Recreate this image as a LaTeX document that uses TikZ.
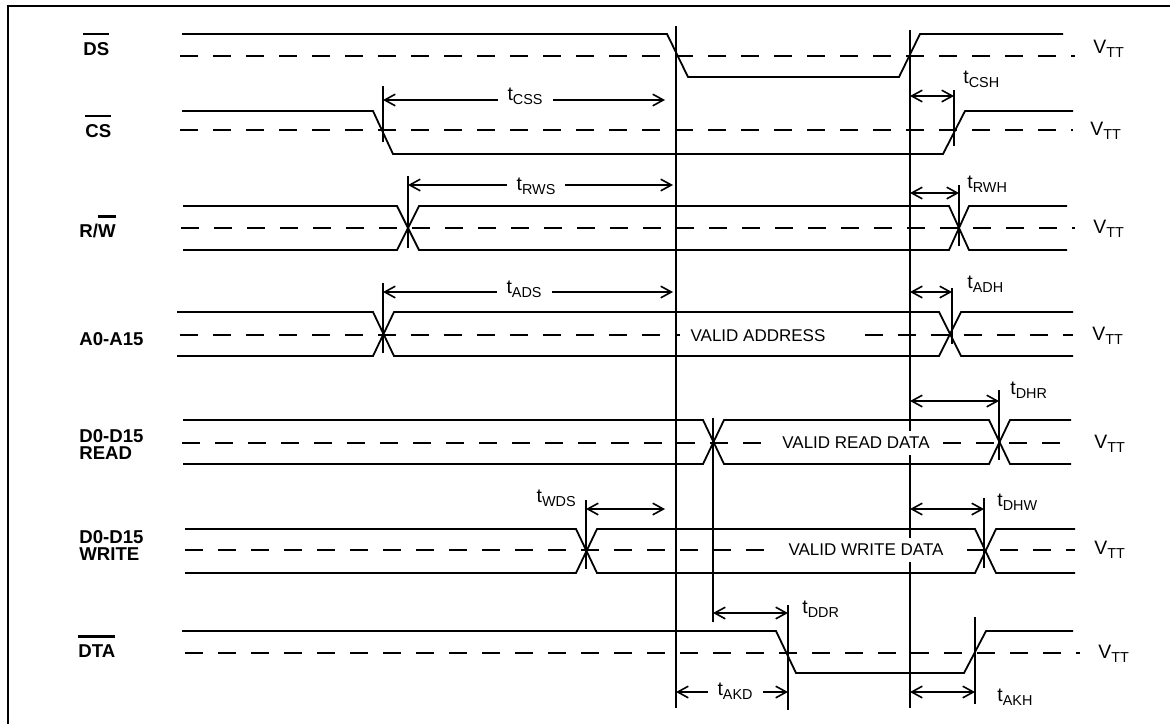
\documentclass[tikz,border=0pt]{standalone}
\usepackage{fontspec}
\setmainfont{Liberation Sans}
\usetikzlibrary{arrows.meta}

\newcommand{\sigbar}[1]{\vbox{\hrule height 1.4pt\kern 3.3pt\hbox{#1}}}
\newcommand{\tlab}[2]{#1\raisebox{-2pt}{\fontsize{7.2}{7.2}\selectfont #2}}

\tikzset{
  sig/.style={line width=0.9pt},
  vtt/.style={line width=0.9pt, dash pattern=on 9pt off 7.5pt},
  tline/.style={line width=1pt},
  dimarrow/.style={line width=0.8pt, {Straight Barb[length=5.3pt,width=5.8pt]}-{Straight Barb[length=5.3pt,width=5.8pt]}},
  siglabel/.style={font=\fontsize{9.3}{8.5}\selectfont\bfseries, anchor=base west, inner sep=0pt, align=left},
  tlbl/.style={font=\fontsize{9.7}{9.7}\selectfont, anchor=base west, inner sep=0pt},
  tmid/.style={font=\fontsize{9.7}{9.7}\selectfont, anchor=base, fill=white, inner xsep=5pt, inner ysep=1pt},
  validtxt/.style={font=\fontsize{8.5}{8.5}\selectfont, fill=white, inner xsep=3pt, inner ysep=3pt}
}

\begin{document}
\begin{tikzpicture}[x=0.5pt, y=-0.5pt]
    \useasboundingbox (0,0) rectangle (1170,724);
    \draw[line width=1.3pt] (8,724) -- (8,6) -- (1170,6);

    \draw[sig] (182,34) -- (667,34) -- (688,77) -- (899,77) -- (920,34) -- (1063,34);
    \draw[vtt] (180,56) -- (1075,56);
    \draw[sig] (182,111) -- (373,111) -- (393,154) -- (943,154) -- (965,111) -- (1073,111);
    \draw[vtt] (180,130) -- (1073,130);
    \draw[sig] (183,206) -- (397,206) -- (419,250) -- (949,250) -- (969,206) -- (1067,206);
    \draw[sig] (183,250) -- (397,250) -- (419,206) -- (949,206) -- (969,250) -- (1067,250);
    \draw[vtt] (181,228) -- (1075,228);
    \draw[sig] (177,312) -- (373,312) -- (394,356) -- (939,356) -- (961,312) -- (1073,312);
    \draw[sig] (177,356) -- (373,356) -- (394,312) -- (939,312) -- (961,356) -- (1073,356);
    \draw[vtt] (180,335) -- (680,335) (865,335) -- (1073,335);
    \draw[sig] (183,420) -- (703,420) -- (724,464) -- (989,464) -- (1010,420) -- (1071,420);
    \draw[sig] (183,464) -- (703,464) -- (724,420) -- (989,420) -- (1010,464) -- (1071,464);
    \draw[vtt] (182,443) -- (770,443) (943,443) -- (1075,443);
    \draw[sig] (185,529) -- (576,529) -- (597,573) -- (975,573) -- (996,529) -- (1075,529);
    \draw[sig] (185,573) -- (576,573) -- (597,529) -- (975,529) -- (996,573) -- (1075,573);
    \draw[vtt] (185,550) -- (772,550) (967,550) -- (1075,550);
    \draw[sig] (182,631) -- (776,631) -- (796,673) -- (964,673) -- (986,631) -- (1073,631);
    \draw[vtt] (185,653) -- (1080,653);

    \draw[tline] (676,26) -- (676,708);
    \draw[tline] (910,30) -- (910,708);
    \draw[tline] (383,86) -- (383,142);
    \draw[tline] (954,90) -- (954,146);
    \draw[tline] (408,176) -- (408,248);
    \draw[tline] (959,185) -- (959,246);
    \draw[tline] (383,283) -- (383,353);
    \draw[tline] (952,288) -- (952,344);
    \draw[tline] (713,418) -- (713,622);
    \draw[tline] (999,390) -- (999,460);
    \draw[tline] (586,500) -- (586,569);
    \draw[tline] (984,498) -- (984,568);
    \draw[tline] (788,605) -- (788,710);
    \draw[tline] (975,617) -- (975,704);

    \draw[dimarrow] (383,100) -- (665,100);
    \draw[dimarrow] (910,96) -- (954,96);
    \draw[dimarrow] (408,185) -- (673,185);
    \draw[dimarrow] (910,193) -- (959,193);
    \draw[dimarrow] (383,292) -- (673,292);
    \draw[dimarrow] (910,292) -- (952,292);
    \draw[dimarrow] (910,401) -- (999,401);
    \draw[dimarrow] (586,509) -- (665,509);
    \draw[dimarrow] (910,509) -- (984,509);
    \draw[dimarrow] (713,613) -- (788,613);
    \draw[dimarrow] (676,692) -- (788,692);
    \draw[dimarrow] (910,692) -- (975,692);

    \node[siglabel] (ds) at (83,55) {\sigbar{DS}};
    \node[siglabel] (cs) at (85,137) {\sigbar{CS}};
    \node[siglabel] (rw) at (79,237) {R/\sigbar{W}};
    \node[siglabel] (addr) at (79,345) {A0-A15};
    \node[siglabel] (rdata) at (79,459) {D0-D15\\READ};
    \node[siglabel] (wdata) at (79,560) {D0-D15\\WRITE};
    \node[siglabel] (dta) at (78,657) {\sigbar{DTA}};

    \node[tlbl] (vds) at (1093,53) {\tlab{V}{TT}};
    \node[tlbl] (vcs) at (1090,135) {\tlab{V}{TT}};
    \node[tlbl] (vrw) at (1093,233) {\tlab{V}{TT}};
    \node[tlbl] (vaddr) at (1092,340) {\tlab{V}{TT}};
    \node[tlbl] (vrdata) at (1094,448) {\tlab{V}{TT}};
    \node[tlbl] (vwdata) at (1094,554) {\tlab{V}{TT}};
    \node[tlbl] (vdta) at (1098,658) {\tlab{V}{TT}};

    \node[tmid] (tcss) at (525,100) {\tlab{t}{CSS}};
    \node[tmid] (trws) at (536,190) {\tlab{t}{RWS}};
    \node[tmid] (tads) at (524,293) {\tlab{t}{ADS}};
    \node[tmid] (takd) at (735,695) {\tlab{t}{AKD}};
    \node[tlbl] (tcsh) at (963,83) {\tlab{t}{CSH}};
    \node[tlbl] (trwh) at (967,188) {\tlab{t}{RWH}};
    \node[tlbl] (tadh) at (967,288) {\tlab{t}{ADH}};
    \node[tlbl] (tdhr) at (1010,394) {\tlab{t}{DHR}};
    \node[tlbl, anchor=base east] (twds) at (576,502) {\tlab{t}{WDS}};
    \node[tlbl] (tdhw) at (997,506) {\tlab{t}{DHW}};
    \node[tlbl] (tddr) at (802,613) {\tlab{t}{DDR}};
    \node[tlbl] (takh) at (997,701) {\tlab{t}{AKH}};

    \node[validtxt] (valaddr) at (758,336) {VALID ADDRESS};
    \node[validtxt] (valrd) at (856,443) {VALID READ DATA};
    \node[validtxt] (valwr) at (866,550) {VALID WRITE DATA};
\end{tikzpicture}
\end{document}
